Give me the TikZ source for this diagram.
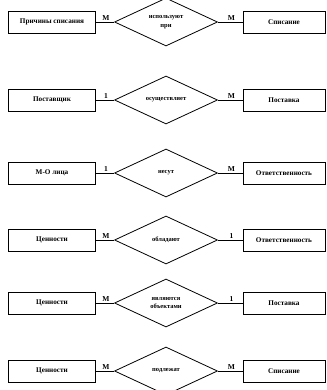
\documentclass[tikz,border=0pt]{standalone}
\usepackage{fontspec}
\setmainfont{Liberation Serif}
\usetikzlibrary{shapes.geometric}
\tikzset{
  ent/.style={draw, line width=0.9pt, minimum width=87pt, minimum height=22pt, inner sep=1pt, font=\bfseries\fontsize{7.2}{8}\selectfont},
  rel/.style={draw, line width=0.8pt, shape=diamond, aspect=2.15, minimum width=103pt, minimum height=48pt, inner sep=0pt, align=center, font=\bfseries\fontsize{6.5}{8.5}\selectfont},
  lnk/.style={line width=0.7pt},
  card/.style={font=\bfseries\fontsize{7.5}{8}\selectfont, inner sep=1pt, anchor=south}
}
\begin{document}
\begin{tikzpicture}[x=1pt,y=-1pt]
\useasboundingbox (0,0) rectangle (326,390);
% row 1
\node[ent] (a1) at (52,22) {Причины списания};
\node[rel] (r1) at (166,22) {используют\\при};
\node[ent, minimum width=82pt] (b1) at (284,22) {Списание};
% row 2
\node[ent] (a2) at (52,100) {Поставщик};
\node[rel] (r2) at (166,100) {осуществляет};
\node[ent, minimum width=82pt] (b2) at (284,100) {Поставка};
% row 3
\node[ent] (a3) at (52,173) {М-О лица};
\node[rel] (r3) at (166,173) {несут};
\node[ent, minimum width=82pt] (b3) at (284,173) {Ответственность};
% row 4
\node[ent] (a4) at (52,240) {Ценности};
\node[rel] (r4) at (166,240) {обладают};
\node[ent, minimum width=82pt] (b4) at (284,240) {Ответственность};
% row 5
\node[ent] (a5) at (52,303) {Ценности};
\node[rel] (r5) at (166,303) {являются\\объектами};
\node[ent, minimum width=82pt] (b5) at (284,303) {Поставка};
% row 6
\node[ent] (a6) at (52,371) {Ценности};
\node[rel] (r6) at (166,371) {подлежат};
\node[ent, minimum width=82pt] (b6) at (284,371) {Списание};
% links
\foreach \i/\l/\r in {1/M/M,2/1/M,3/1/M,4/M/1,5/M/1,6/M/M}{
  \draw[lnk] (a\i.east) -- node[card, pos=0.55] {\l} (r\i.west);
  \draw[lnk] (r\i.east) -- node[card, pos=0.55] {\r} (b\i.west);
}
\end{tikzpicture}
\end{document}
